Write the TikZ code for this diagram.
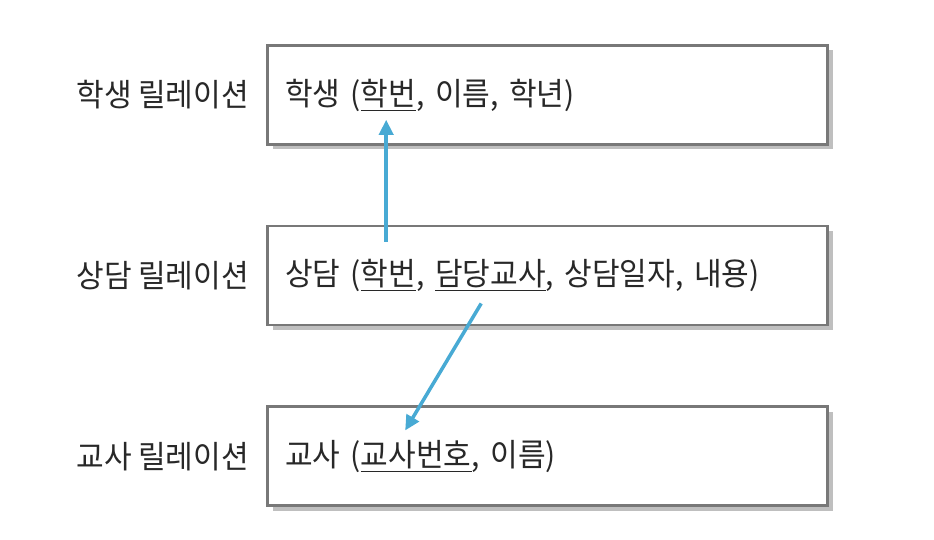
\documentclass[tikz,border=0pt]{standalone}
\usepackage{fontspec}
\setmainfont[WordSpace=0.9, FakeStretch=0.95]{Noto Sans CJK KR}
\usepackage{tikz}
\usetikzlibrary{positioning,arrows.meta,calc,shadows}
\usepackage{xcolor}
\definecolor{RelGray}{RGB}{120,120,120}
\definecolor{RelText}{RGB}{40,40,40}
\definecolor{LinkBlue}{RGB}{72,170,212}

\begin{document}
\begin{tikzpicture}[
  node distance=1.58cm and 0.34cm,
  every node/.style={font=\fontsize{18}{21}\selectfont, text=RelText},
  relbox/.style={draw=RelGray, fill=white, line width=1.5pt, minimum width=11.2cm, minimum height=1.98cm, text width=10.5cm, align=left, inner xsep=0.35cm, drop shadow={shadow xshift=0.1cm, shadow yshift=-0.1cm, fill=black!25, opacity=1}},
  relname/.style={inner sep=0pt, anchor=east},
  arrow/.style={-{Triangle[length=8.5pt,width=8pt]}, line width=2pt, LinkBlue}
]
\useasboundingbox (0,0) rectangle (18.68,-10.8);
\node[relbox] (student) at (10.95,-1.9) {학생 (\underline{학번}, 이름, 학년)};
\node[relbox, below=of student] (counsel) {상담 (\underline{학번}, \underline{담당교사}, 상담일자, 내용)};
\node[relbox, below=of counsel] (teacher) {교사 (\underline{교사번호}, 이름)};

\node[relname, left=of student] (studentname) {학생 릴레이션};
\node[relname, left=of counsel] (counselname) {상담 릴레이션};
\node[relname, left=of teacher] (teachername) {교사 릴레이션};

\coordinate (fk1) at ($(counsel.north west)+(2.4,-0.34)$);
\coordinate (pk1) at ($(student.south west)+(2.4,0.52)$);
\coordinate (fk2) at ($(counsel.south west)+(4.3,0.46)$);
\coordinate (pk2) at ($(teacher.north west)+(2.78,-0.5)$);

\draw[arrow] (fk1) -- (pk1);
\draw[arrow] (fk2) -- (pk2);
\end{tikzpicture}
\end{document}
